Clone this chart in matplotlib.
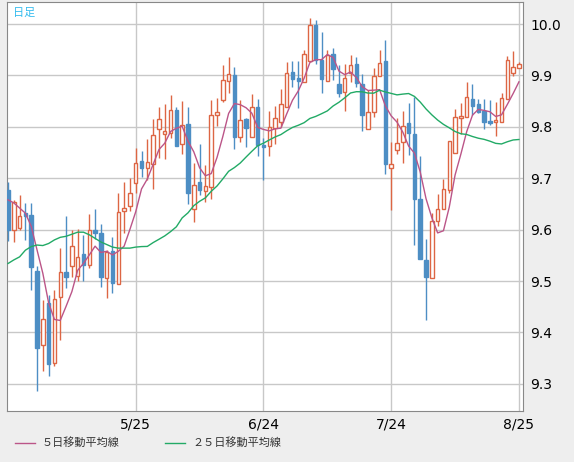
import matplotlib.pyplot as plt
import pandas as pd

plt.rcParams['font.family'] = ['Noto Sans CJK JP', 'DejaVu Sans']

opens = [9.677, 9.600, 9.604, 9.633, 9.628, 9.519, 9.376, 9.457, 9.340, 9.468,
         9.517, 9.529, 9.510, 9.553, 9.532, 9.599, 9.593, 9.505, 9.558, 9.494,
         9.636, 9.646, 9.690, 9.733, 9.719, 9.727, 9.795, 9.787, 9.789, 9.833,
         9.766, 9.805, 9.641, 9.692, 9.676, 9.682, 9.824, 9.852, 9.889, 9.901,
         9.780, 9.815, 9.780, 9.838, 9.765, 9.763, 9.798, 9.810, 9.838, 9.906,
         9.896, 9.888, 9.929, 9.998, 9.930, 9.890, 9.942, 9.883, 9.868, 9.904,
         9.923, 9.883, 9.795, 9.828, 9.899, 9.928, 9.719, 9.754, 9.770, 9.807,
         9.787, 9.659, 9.541, 9.505, 9.617, 9.641, 9.678, 9.750, 9.818, 9.820,
         9.855, 9.844, 9.831, 9.811, 9.810, 9.810, 9.854, 9.904, 9.915]
closes = [9.599, 9.654, 9.626, 9.626, 9.527, 9.370, 9.426, 9.338, 9.465, 9.517,
          9.507, 9.569, 9.546, 9.532, 9.599, 9.593, 9.508, 9.557, 9.497, 9.634,
          9.643, 9.671, 9.729, 9.719, 9.731, 9.785, 9.815, 9.791, 9.833, 9.763,
          9.803, 9.671, 9.687, 9.678, 9.685, 9.824, 9.828, 9.891, 9.903, 9.781,
          9.813, 9.798, 9.838, 9.765, 9.761, 9.799, 9.818, 9.844, 9.904, 9.894,
          9.890, 9.941, 9.998, 9.931, 9.894, 9.940, 9.912, 9.866, 9.896, 9.920,
          9.886, 9.823, 9.829, 9.899, 9.925, 9.727, 9.727, 9.768, 9.802, 9.789,
          9.659, 9.543, 9.508, 9.617, 9.641, 9.680, 9.773, 9.820, 9.821, 9.859,
          9.841, 9.829, 9.810, 9.808, 9.813, 9.857, 9.930, 9.916, 9.922]
highs = [9.693, 9.658, 9.667, 9.652, 9.652, 9.530, 9.463, 9.473, 9.483, 9.564,
         9.626, 9.600, 9.602, 9.590, 9.630, 9.640, 9.611, 9.560, 9.585, 9.672,
         9.693, 9.700, 9.759, 9.753, 9.776, 9.815, 9.838, 9.844, 9.862, 9.838,
         9.851, 9.839, 9.730, 9.767, 9.726, 9.852, 9.857, 9.920, 9.935, 9.916,
         9.852, 9.817, 9.863, 9.854, 9.779, 9.831, 9.840, 9.874, 9.927, 9.928,
         9.928, 9.949, 10.012, 10.008, 9.985, 9.949, 9.953, 9.920, 9.922, 9.940,
         9.935, 9.903, 9.872, 9.914, 9.949, 9.969, 9.770, 9.817, 9.831, 9.846,
         9.859, 9.743, 9.582, 9.632, 9.669, 9.698, 9.773, 9.834, 9.846, 9.888,
         9.883, 9.854, 9.855, 9.853, 9.849, 9.865, 9.938, 9.948, 9.927]
lows = [9.578, 9.575, 9.599, 9.580, 9.483, 9.285, 9.324, 9.316, 9.335, 9.385,
        9.486, 9.508, 9.500, 9.500, 9.526, 9.581, 9.489, 9.466, 9.477, 9.494,
        9.593, 9.637, 9.671, 9.703, 9.697, 9.680, 9.739, 9.737, 9.778, 9.763,
        9.748, 9.650, 9.615, 9.667, 9.654, 9.660, 9.802, 9.848, 9.866, 9.757,
        9.771, 9.760, 9.780, 9.744, 9.697, 9.744, 9.766, 9.800, 9.838, 9.878,
        9.837, 9.888, 9.929, 9.922, 9.866, 9.890, 9.891, 9.859, 9.831, 9.888,
        9.877, 9.792, 9.795, 9.820, 9.899, 9.708, 9.638, 9.748, 9.730, 9.745,
        9.570, 9.543, 9.424, 9.505, 9.608, 9.641, 9.671, 9.750, 9.786, 9.820,
        9.823, 9.826, 9.796, 9.804, 9.782, 9.810, 9.854, 9.899, 9.915]

# moving averages at the left edge (history not shown in the chart)
ma5_head = [9.658, 9.652, 9.642, 9.632]
ma25_head = [9.534, 9.541, 9.547, 9.560, 9.567, 9.570, 9.569, 9.573, 9.580, 9.585,
             9.587, 9.591, 9.595, 9.595, 9.590, 9.583, 9.576, 9.571, 9.566, 9.564,
             9.564, 9.564, 9.566, 9.567]

tick_idx = [22, 44, 66, 88]
tick_labels = ['5/25', '6/24', '7/24', '8/25']
y_ticks = [9.3, 9.4, 9.5, 9.6, 9.7, 9.8, 9.9, 10.0]

df = pd.DataFrame({'open': opens, 'high': highs, 'low': lows, 'close': closes})
ma5 = df['close'].rolling(5).mean()
ma5.iloc[:len(ma5_head)] = ma5_head
ma25 = df['close'].rolling(25).mean()
ma25.iloc[:len(ma25_head)] = ma25_head

up_col = '#dd6644'
dn_col = '#4d8ec4'

fig = plt.figure(figsize=(5.74, 4.62), dpi=100, facecolor='#eeeeee')
ax = fig.add_axes([7 / 574, 1 - 411 / 462, 516 / 574, 409 / 462])
ax.set_facecolor('white')

for i, r in df.iterrows():
    up = r['close'] >= r['open']
    c = up_col if up else dn_col
    lo, hi = sorted([r['open'], r['close']])
    ax.vlines(i, r['low'], lo, color=c, lw=1, zorder=3)
    ax.vlines(i, hi, r['high'], color=c, lw=1, zorder=3)
    ax.bar(i, max(hi - lo, 0.0008), bottom=lo, width=0.6,
           facecolor='white' if up else c, edgecolor=c, lw=1, zorder=4)

ax.plot(range(len(df)), ma5, color='#bb5588', lw=1, zorder=5)
ax.plot(range(len(df)), ma25, color='#22aa66', lw=1, zorder=5)

ax.set_xlim(-0.17, 88.7)
ax.set_ylim(9.247, 10.043)
ax.set_xticks(tick_idx)
ax.set_xticklabels(tick_labels, family='DejaVu Sans', fontsize=10)
ax.set_yticks(y_ticks)
ax.set_yticklabels(['%.1f' % v for v in y_ticks], family='DejaVu Sans', fontsize=10)
ax.yaxis.tick_right()
ax.tick_params(length=0, pad=5)
ax.grid(color='#c8c8c8', lw=1)
ax.set_axisbelow(True)
for s in ax.spines.values():
    s.set_color('#888888')

ax.text(0.012, 0.985, '日足', transform=ax.transAxes, color='#33bbee',
        fontsize=8, va='top', ha='left')

# legend at the bottom
fig.lines.append(plt.Line2D([15 / 574, 35 / 574], [1 - 443 / 462] * 2, color='#bb5588',
                            lw=1, transform=fig.transFigure))
fig.text(42 / 574, 1 - 443 / 462, '５日移動平均線', fontsize=8, va='center', color='#333333')
fig.lines.append(plt.Line2D([165 / 574, 185 / 574], [1 - 443 / 462] * 2, color='#22aa66',
                            lw=1, transform=fig.transFigure))
fig.text(192 / 574, 1 - 443 / 462, '２５日移動平均線', fontsize=8, va='center', color='#333333')

fig.savefig('out.png', dpi=100, facecolor=fig.get_facecolor())
